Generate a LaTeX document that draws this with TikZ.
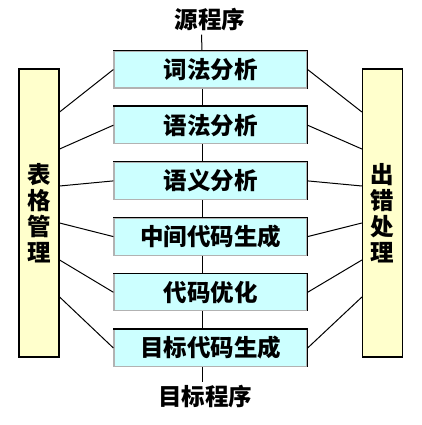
\documentclass[tikz,border=0pt]{standalone}
\usepackage{fontspec}
\newfontfamily\cjk{Noto Sans CJK SC}
\usetikzlibrary{positioning}
\definecolor{boxcyan}{RGB}{204,255,255}
\definecolor{baryellow}{RGB}{255,255,204}

\begin{document}
\begin{tikzpicture}[x=1pt,y=-1pt,node distance=17.5pt,
 every node/.style={font=\cjk\bfseries\fontsize{23.5}{26}\selectfont},
 phase/.style={fill=boxcyan,draw=gray!60,line width=1.2pt,minimum width=193pt,
  minimum height=37pt,inner sep=0pt,
  append after command={(\tikzlastnode.north west) edge[draw=black,line width=1.2pt] (\tikzlastnode.north east)
   (\tikzlastnode.north east) edge[draw=black,line width=1.2pt] (\tikzlastnode.south east)}},
 side/.style={fill=baryellow,draw,line width=1.2pt,minimum width=40pt,
  minimum height=288pt,inner sep=0pt,align=center},
 prog/.style={inner sep=3pt},
 link/.style={line width=1pt}]
\useasboundingbox (0,0) rectangle (421,425);
% compiler phases
\node[phase] (lex) at (210.5,69.5) {词法分析};
\node[phase,below=of lex] (syn) {语法分析};
\node[phase,below=of syn] (sem) {语义分析};
\node[phase,below=of sem] (ir) {中间代码生成};
\node[phase,below=of ir] (opt) {代码优化};
\node[phase,below=of opt] (gen) {目标代码生成};
\node[prog] (src) at (210,20) {源程序};
\node[prog] (dst) at (205,397) {目标程序};
% side bars
\node[side] (tab) at (39,213) {表\\格\\管\\理};
\node[side] (err) at (382.5,213) {出\\错\\处\\理};
% main flow
\draw[link] ([xshift=-8.5pt]src.south) -- ([xshift=-8.5pt]lex.north);
\foreach \a/\b in {lex/syn,syn/sem,sem/ir,ir/opt,opt/gen}
  \draw[link] ([xshift=-8.5pt]\a.south) -- ([xshift=-8.5pt]\b.north);
\draw[link] ([xshift=-8.5pt]gen.south) -- ([xshift=-3pt]dst.north);
% links to the side bars
\foreach \p/\d in {lex/101,syn/64,sem/27,ir/-10,opt/-47,gen/-84}{
  \draw[link] (\p.west) -- ([yshift=\d pt]tab.east);
  \draw[link] (\p.east) -- ([yshift=\d pt]err.west);
}
\end{tikzpicture}
\end{document}
